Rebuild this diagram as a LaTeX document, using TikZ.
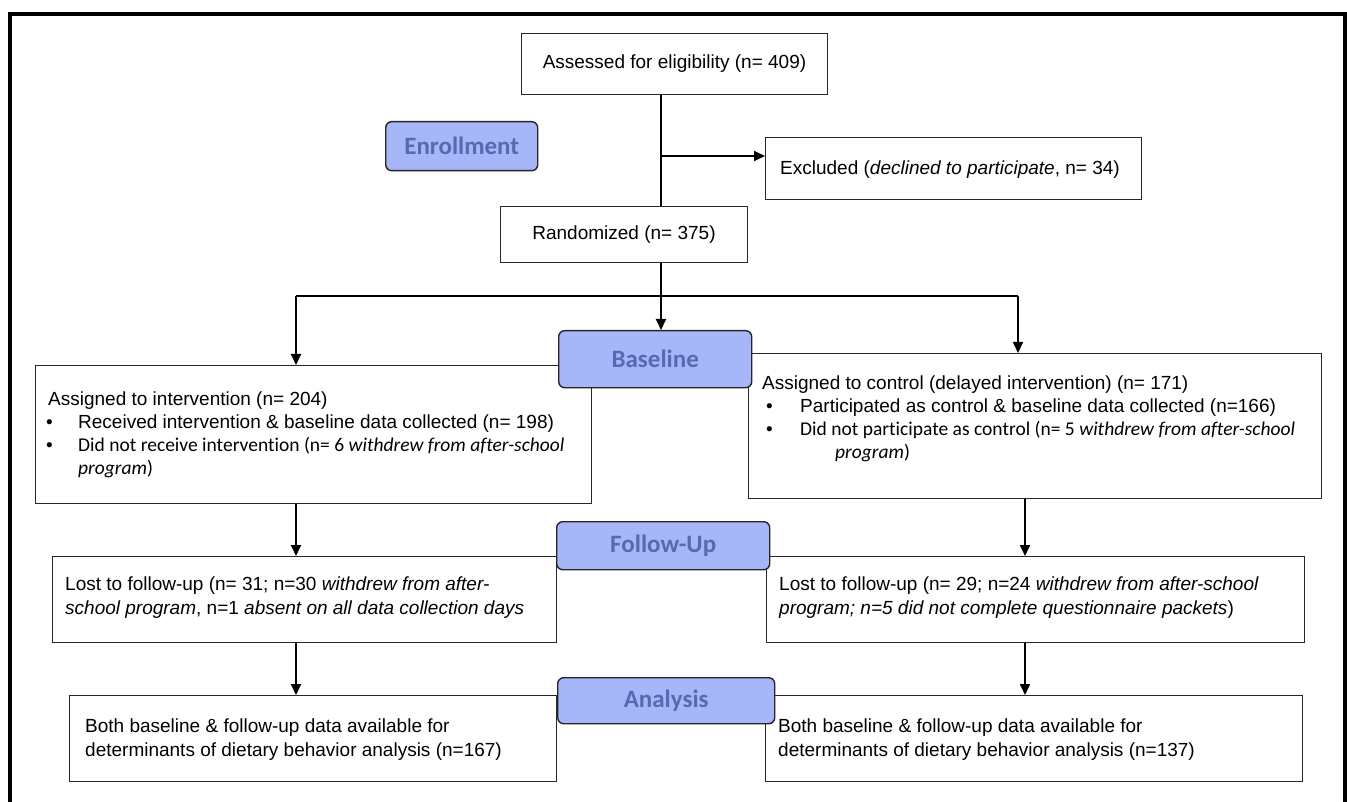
\documentclass[tikz,border=0pt]{standalone}
\usepackage{fontspec}
\setmainfont{Liberation Sans}
\newfontfamily\calfont[Ligatures=NoCommon]{Carlito}
\usetikzlibrary{arrows.meta}
\definecolor{lblfill}{RGB}{166,182,248}
\definecolor{lbltext}{RGB}{86,106,178}
\definecolor{boxline}{RGB}{40,40,40}
\begin{document}
\begin{tikzpicture}[x=1pt,y=-1pt,
  box/.style={draw=boxline, line width=1pt, anchor=north west, inner sep=0pt},
  lbl/.style={draw=black!85, line width=1.4pt, fill=lblfill, rounded corners=6pt, anchor=north west, inner sep=0pt},
  lbltxt/.style={anchor=center, font=\calfont\fontsize{25}{28}\selectfont\bfseries, text=lbltext},
  txt/.style={anchor=base west, inner sep=0pt, font=\fontsize{19}{22}\selectfont},
  ctxt/.style={anchor=base west, inner sep=0pt, font=\calfont\fontsize{19.5}{22}\selectfont},
  arr/.style={line width=1.8pt, -{Triangle[length=11pt,width=10pt]}},
  ln/.style={line width=1.8pt}]
\useasboundingbox (0,0) rectangle (1347,802);
\fill[white] (0,0) rectangle (1347,802);
\draw[line width=4pt] (10,14) rectangle (1345,840);

% top
\node[box, minimum width=306pt, minimum height=61pt] (assess) at (521,33) {};
\node[txt, anchor=center] (assesst) at (assess.center) {Assessed for eligibility (n= 409)};
\node[lbl, minimum width=152pt, minimum height=49pt] (enroll) at (385,121) {};
\node[lbltxt] (enrollt) at (enroll.center) {Enrollment};
\node[box, minimum width=376pt, minimum height=62pt] (excl) at (765,137) {};
\node[txt] (exclt) at (780,175) {Excluded (\textit{declined to participate}, n= 34)};
\node[box, minimum width=247pt, minimum height=56pt] (rand) at (500,206) {};
\node[txt, anchor=center] (randt) at (rand.center) {Randomized (n= 375)};
\coordinate (tapE) at (661,156);
\coordinate (brM) at (661,296);
\coordinate (brL) at (296,296);
\coordinate (brR) at (1018,296);
\coordinate (colL) at (296,0);
\coordinate (colR) at (1025,0);

% baseline row
\node[box, minimum width=556pt, minimum height=138pt] (interv) at (35,365) {};
\node[box, minimum width=573pt, minimum height=145pt] (ctrl) at (748,353) {};
\node[lbl, minimum width=193pt, minimum height=57pt] (base) at (558,330) {};
\node[lbltxt] (baset) at (base.center) {Baseline};

\node[txt] (i1) at (48,405) {Assigned to intervention (n= 204)};
\node[txt] (i2b) at (46,428) {\textbullet};
\node[txt] (i2) at (78,428) {Received intervention \& baseline data collected (n= 198)};
\node[txt] (i3b) at (46,451) {\textbullet};
\node[ctxt] (i3) at (78,451) {Did not receive intervention (n= 6 \textit{withdrew from after-school}};
\node[ctxt] (i4) at (78,474) {\textit{program})};

\node[txt] (c1) at (762,389) {Assigned to control (delayed intervention) (n= 171)};
\node[txt] (c2b) at (766,412) {\textbullet};
\node[txt] (c2) at (800,412) {Participated as control \& baseline data collected (n=166)};
\node[txt] (c3b) at (766,435) {\textbullet};
\node[ctxt] (c3) at (800,435) {Did not participate as control (n= 5 \textit{withdrew from after-school}};
\node[ctxt] (c4) at (835,458) {\textit{program})};

% follow-up row
\node[box, minimum width=504pt, minimum height=86pt] (lostL) at (52,556) {};
\node[box, minimum width=538pt, minimum height=86pt] (lostR) at (766,556) {};
\node[lbl, minimum width=213pt, minimum height=48pt] (follow) at (556,521) {};
\node[lbltxt] (followt) at (follow.center) {Follow-Up};
\node[txt] (l1) at (65,590) {Lost to follow-up (n= 31; n=30 \textit{withdrew from after-}};
\node[txt] (l2) at (65,614) {\textit{school program}, n=1 \textit{absent on all data collection days}};
\node[txt] (r1) at (779,590) {Lost to follow-up (n= 29; n=24 \textit{withdrew from after-school}};
\node[txt] (r2) at (779,614) {\textit{program; n=5 did not complete questionnaire packets})};

% analysis row
\node[box, minimum width=487pt, minimum height=86pt] (anL) at (69,695) {};
\node[box, minimum width=537pt, minimum height=86pt] (anR) at (765,695) {};
\node[lbl, minimum width=217pt, minimum height=46pt] (analysis) at (557,677) {};
\node[lbltxt] (analysist) at (analysis.center) {Analysis};
\node[txt] (a1) at (85,732) {Both baseline \& follow-up data available for};
\node[txt] (a2) at (85,756) {determinants of dietary behavior analysis (n=167)};
\node[txt] (b1) at (778,732) {Both baseline \& follow-up data available for};
\node[txt] (b2) at (778,756) {determinants of dietary behavior analysis (n=137)};

% connectors
\draw[ln] (assess.south -| brM) -- (rand.north -| brM);
\draw[arr] (tapE) -- (tapE -| excl.west);
\draw[ln] (rand.south -| brM) -- (brM);
\draw[ln] (brL) -- (brR);
\draw[arr] (brL) -- (brL |- interv.north);
\draw[arr] (brM) -- (brM |- base.north);
\draw[arr] (brR) -- (brR |- ctrl.north);
\draw[arr] (interv.south -| colL) -- (lostL.north -| colL);
\draw[arr] (ctrl.south -| colR) -- (lostR.north -| colR);
\draw[arr] (lostL.south -| colL) -- (anL.north -| colL);
\draw[arr] (lostR.south -| colR) -- (anR.north -| colR);
\end{tikzpicture}
\end{document}
